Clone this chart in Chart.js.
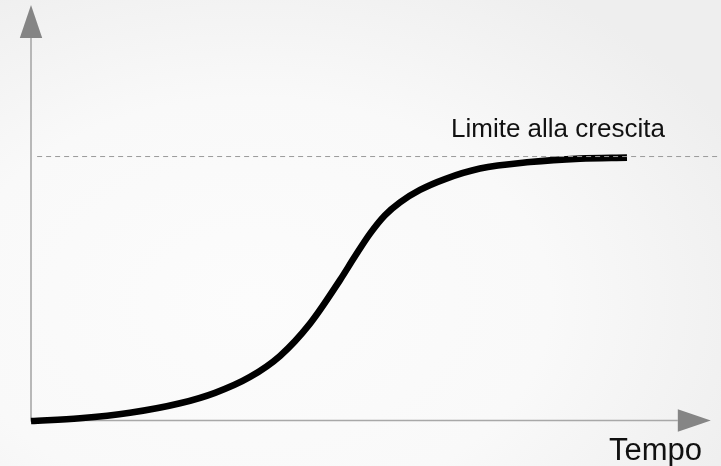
<!DOCTYPE html>
<html>
<head>
<meta charset="utf-8">
<script src="https://cdn.jsdelivr.net/npm/chart.js@4/dist/chart.umd.min.js"></script>
<style>
  html, body { margin: 0; padding: 0; }
  body {
    width: 721px; height: 466px; overflow: hidden;
    background: radial-gradient(ellipse 75% 80% at 35% 65%, #fcfcfc 0%, #f9f9f9 55%, #eeeeee 100%);
  }
  #wrap { position: absolute; left: 0; top: 0; width: 721px; height: 466px; }
</style>
</head>
<body>
<div id="wrap"><canvas id="c"></canvas></div>
<script>
// ---- data ----
const timeValues   = [0, 7.21, 14.56, 21.92, 27.07, 32.22, 36.63, 41.04, 45.45, 47.66, 49.87, 52.07, 54.28, 57.22, 60.90, 66.04, 73.40, 80.76, 87.67];
const growthValues = [0, 1.02, 3.10, 6.69, 10.66, 16.67, 24.61, 36.82, 53.27, 62.27, 70.85, 77.81, 82.68, 87.37, 91.49, 95.46, 97.92, 99.21, 99.58];
const limitValue = 100;
const limitRange = [0.9, 101.5];
const axisLimits = { xMax: 101.5, yMax: 157.3, xArrowTip: 100 };
const labels = { limit: "Limite alla crescita", time: "Tempo" };

const curve = timeValues.map((t, i) => ({ x: t, y: growthValues[i] }));
const limitLine = limitRange.map(x => ({ x: x, y: limitValue }));

const axesPlugin = {
  id: 'arrowAxes',
  beforeDatasetsDraw(chart) {
    const { ctx, scales: { x, y } } = chart;
    const x0 = x.getPixelForValue(0);
    const y0 = y.getPixelForValue(0) - 0.5;
    const yTip = y.getPixelForValue(axisLimits.yMax);
    const xTip = x.getPixelForValue(axisLimits.xArrowTip);
    ctx.save();
    ctx.strokeStyle = '#a8a8a8';
    ctx.lineWidth = 1.6;
    ctx.beginPath();
    ctx.moveTo(x0, y0 + 1);
    ctx.lineTo(x0, yTip + 33);
    ctx.moveTo(x0, y0);
    ctx.lineTo(xTip - 33, y0);
    ctx.stroke();
    ctx.fillStyle = '#858585';
    ctx.beginPath();
    ctx.moveTo(x0, yTip);
    ctx.lineTo(x0 + 11.2, yTip + 33);
    ctx.lineTo(x0 - 11.2, yTip + 33);
    ctx.closePath();
    ctx.fill();
    ctx.beginPath();
    ctx.moveTo(xTip, y0);
    ctx.lineTo(xTip - 33, y0 - 11.3);
    ctx.lineTo(xTip - 33, y0 + 11.3);
    ctx.closePath();
    ctx.fill();
    ctx.restore();
  },
  afterDatasetsDraw(chart) {
    const { ctx, scales: { x, y } } = chart;
    ctx.save();
    ctx.fillStyle = '#111111';
    ctx.textBaseline = 'alphabetic';
    ctx.textAlign = 'left';
    ctx.font = '26px "Liberation Sans", Arial, sans-serif';
    ctx.fillText(labels.limit, 451, y.getPixelForValue(limitValue) - 19.5);
    ctx.font = '31px "Liberation Sans", Arial, sans-serif';
    ctx.fillText(labels.time, 609, 460);
    ctx.restore();
  }
};

new Chart(document.getElementById('c'), {
  type: 'scatter',
  data: {
    datasets: [
      {
        data: limitLine,
        showLine: true,
        borderColor: '#9a9a9a',
        borderWidth: 1,
        borderDash: [5, 4],
        pointRadius: 0,
        clip: false
      },
      {
        data: curve,
        showLine: true,
        borderColor: '#000000',
        borderWidth: 6.6,
        borderCapStyle: 'butt',
        borderJoinStyle: 'round',
        cubicInterpolationMode: 'monotone',
        pointRadius: 0,
        clip: false
      }
    ]
  },
  options: {
    responsive: true,
    maintainAspectRatio: false,
    animation: false,
    events: [],
    layout: { padding: { left: 31, right: 0, top: 5, bottom: 45 } },
    plugins: { legend: { display: false }, tooltip: { enabled: false } },
    scales: {
      x: { type: 'linear', min: 0, max: axisLimits.xMax, display: false },
      y: { type: 'linear', min: 0, max: axisLimits.yMax, display: false }
    }
  },
  plugins: [axesPlugin]
});
</script>
</body>
</html>
